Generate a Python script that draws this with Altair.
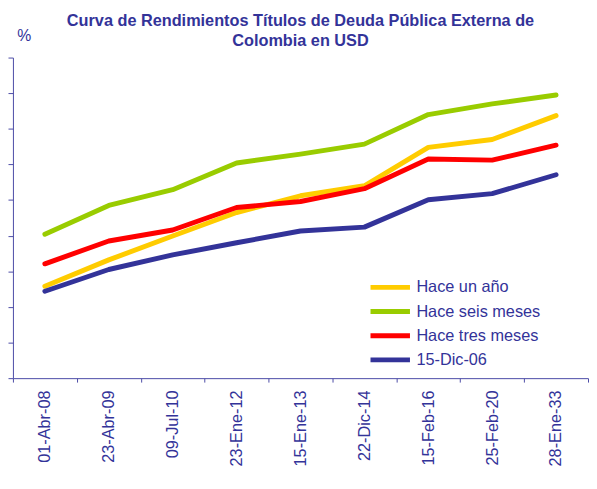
import altair as alt
import pandas as pd

fechas = ["01-Abr-08", "23-Abr-09", "09-Jul-10", "23-Ene-12", "15-Ene-13",
          "22-Dic-14", "15-Feb-16", "25-Feb-20", "28-Ene-33"]
series = ["Hace un año", "Hace seis meses", "Hace tres meses", "15-Dic-06"]
colores = ["#FFCC00", "#99CC00", "#FF0000", "#333399"]

hace_un_ano = [2.58, 3.32, 3.99, 4.65, 5.12, 5.40, 6.48, 6.70, 7.37]
hace_seis_meses = [4.04, 4.85, 5.29, 6.04, 6.29, 6.57, 7.40, 7.70, 7.95]
hace_tres_meses = [3.21, 3.85, 4.16, 4.79, 4.96, 5.32, 6.15, 6.12, 6.54]
dic_06 = [2.44, 3.05, 3.46, 3.80, 4.13, 4.24, 5.01, 5.18, 5.71]
y_ticks = [0, 1, 2, 3, 4, 5, 6, 7, 8, 9]

valores = [hace_un_ano, hace_seis_meses, hace_tres_meses, dic_06]
rows = []
for s, vals in zip(series, valores):
    for f, v in zip(fechas, vals):
        rows.append({"fecha": f, "serie": s, "valor": v})
df = pd.DataFrame(rows)

TXT = "#333399"
AX = "#4a4aa6"
FONT = "Arial, Liberation Sans, sans-serif"

chart = alt.Chart(df).mark_line(strokeWidth=5, strokeCap="round", strokeJoin="round").encode(
    x=alt.X("fecha:N", sort=fechas, title=None,
            scale=alt.Scale(paddingInner=0, paddingOuter=0),
            axis=alt.Axis(labelAngle=-90, labelAlign="right", labelBaseline="middle",
                          labelFontSize=16.5, labelColor=TXT, labelFont=FONT,
                          tickBand="extent", tickSize=4, tickColor=AX,
                          domainColor=AX, labelPadding=8, grid=False)),
    y=alt.Y("valor:Q", scale=alt.Scale(domain=[0, 9], nice=False, zero=False),
            title="%",
            axis=alt.Axis(labels=False, values=y_ticks,
                          tickSize=5, tickColor=AX, domainColor=AX, grid=False,
                          titleAngle=0, titleX=11, titleY=-22, titleAlign="center",
                          titleBaseline="middle", titleFontSize=16,
                          titleFontWeight="normal", titleColor=TXT, titleFont=FONT)),
    color=alt.Color("serie:N", sort=series,
                    scale=alt.Scale(domain=series, range=colores),
                    legend=alt.Legend(title=None, orient="none", legendX=360, legendY=223,
                                      symbolType="stroke", symbolSize=1600,
                                      symbolStrokeWidth=5, labelFontSize=16.5,
                                      labelColor=TXT, labelFont=FONT, labelOffset=4,
                                      clipHeight=20, rowPadding=4.5)),
    order=alt.Order("serie_idx:Q"),
).transform_calculate(
    serie_idx="indexof(['Hace un año','Hace seis meses','Hace tres meses','15-Dic-06'], datum.serie)"
).properties(
    width=583, height=325,
    title=alt.TitleParams(
        ["Curva de Rendimientos Títulos de Deuda Pública Externa de", "Colombia en USD"],
        fontSize=16.5, fontWeight="bold", color=TXT, font=FONT, anchor="middle",
        frame="group", offset=10, lineHeight=21, dy=32),
    autosize=alt.AutoSizeParams(type="none"),
    padding={"left": 5, "top": 47, "right": 1, "bottom": 100},
).configure_view(stroke=None)

chart.save("out.html", embed_options={"renderer": "svg", "actions": False})
